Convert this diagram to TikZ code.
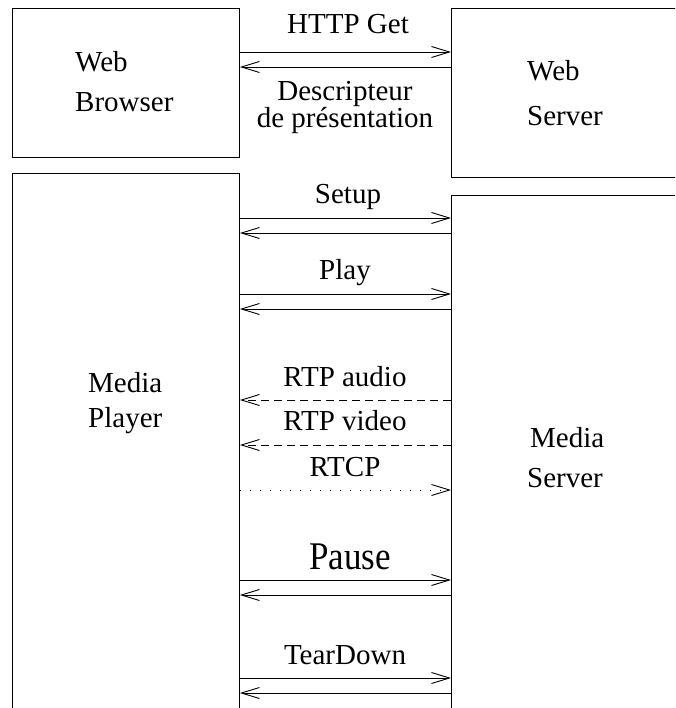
\documentclass[tikz,border=0pt]{standalone}
\usepackage{fontspec}
\setmainfont{Liberation Serif}
\usetikzlibrary{arrows.meta}
\begin{document}
\begin{tikzpicture}[x=1pt,y=-1pt,
  box/.style={draw,line width=0.9pt,anchor=north west,inner sep=0pt},
  txt/.style={font=\fontsize{29}{29}\selectfont,inner sep=0pt,anchor=base west},
  lbl/.style={font=\fontsize{29}{29}\selectfont,inner sep=0pt,anchor=base},
  arr/.style={line width=0.9pt,-{Straight Barb[length=18pt,width=11pt,line width=0.9pt]}},
  dsh/.style={arr,dash pattern=on 8pt off 5pt},
  dtt/.style={arr,dash pattern=on 1pt off 9pt}]
\useasboundingbox (0,0) rectangle (675,708);
\clip (0,0) rectangle (675,708);
% boxes
\node[box,minimum width=227pt,minimum height=149pt] (wb) at (12,8) {};
\node[box,minimum width=260pt,minimum height=169pt] (ws) at (451,8) {};
\node[box,minimum width=227pt,minimum height=560pt] (mp) at (12,173) {};
\node[box,minimum width=260pt,minimum height=540pt] (ms) at (451,195) {};
% box texts
\node[txt] (t1) at (75,72) {Web};
\node[txt] (t2) at (75,112) {Browser};
\node[txt] (t3) at (527,81) {Web};
\node[txt] (t4) at (527,126) {Server};
\node[txt] (t5) at (88,392) {Media};
\node[txt] (t6) at (88,427) {Player};
\node[txt] (t7) at (530,447) {Media};
\node[txt] (t8) at (527,487) {Server};
% labels
\node[lbl] (l1) at (348,34) {HTTP Get};
\node[lbl,align=center,font=\fontsize{29}{23}\selectfont] (l2) at (345,128) {Descripteur\\de présentation};
\node[lbl] (l4) at (348,204) {Setup};
\node[lbl] (l5) at (345,279) {Play};
\node[lbl] (l6) at (345,386) {RTP audio};
\node[lbl] (l7) at (345,430) {RTP video};
\node[lbl] (l8) at (345,476) {RTCP};
\node[lbl,font=\fontsize{35}{35}\selectfont,yscale=1.12] (l9) at (350,569) {Pause};
\node[lbl] (l10) at (345,664) {TearDown};
% connectors
\draw[arr] (wb.east |- 0,52) -- (ws.west |- 0,52);
\draw[arr] (ws.west |- 0,67) -- (wb.east |- 0,67);
\draw[arr] (mp.east |- 0,218) -- (ms.west |- 0,218);
\draw[arr] (ms.west |- 0,233) -- (mp.east |- 0,233);
\draw[arr] (mp.east |- 0,294) -- (ms.west |- 0,294);
\draw[arr] (ms.west |- 0,309) -- (mp.east |- 0,309);
\draw[dsh] (ms.west |- 0,400) -- (mp.east |- 0,400);
\draw[dsh] (ms.west |- 0,445) -- (mp.east |- 0,445);
\draw[dtt] (mp.east |- 0,490) -- (ms.west |- 0,490);
\draw[arr] (mp.east |- 0,580) -- (ms.west |- 0,580);
\draw[arr] (ms.west |- 0,595) -- (mp.east |- 0,595);
\draw[arr] (mp.east |- 0,678) -- (ms.west |- 0,678);
\draw[arr] (ms.west |- 0,693) -- (mp.east |- 0,693);
\end{tikzpicture}
\end{document}
